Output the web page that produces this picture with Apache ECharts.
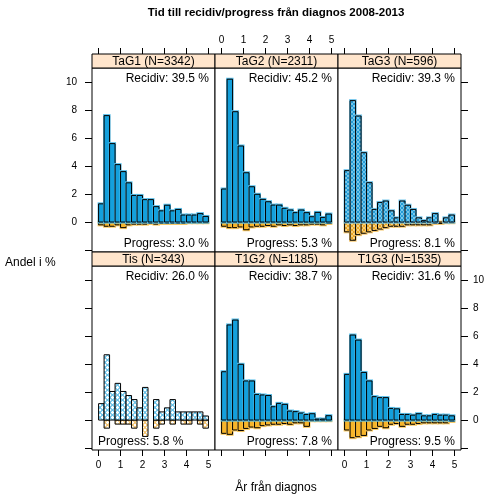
<!DOCTYPE html>
<html><head><meta charset="utf-8">
<script src="https://cdn.jsdelivr.net/npm/echarts@6/dist/echarts.min.js"></script>
<style>html,body{margin:0;padding:0;background:#fff}#c{width:504px;height:504px}</style>
</head><body><div id="c"></div>
<script>
// ---- data ----
const panelNames = ['TaG1 (N=3342)','TaG2 (N=2311)','TaG3 (N=596)','Tis (N=343)','T1G2 (N=1185)','T1G3 (N=1535)'];
const recidivText = ['Recidiv: 39.5 %','Recidiv: 45.2 %','Recidiv: 39.3 %','Recidiv: 26.0 %','Recidiv: 38.7 %','Recidiv: 31.6 %'];
const progressText = ['Progress: 3.0 %','Progress: 5.3 %','Progress: 8.1 %','Progress: 5.8 %','Progress: 7.8 %','Progress: 9.5 %'];
const binStart = [0,0.25,0.5,0.75,1,1.25,1.5,1.75,2,2.25,2.5,2.75,3,3.25,3.5,3.75,4,4.25,4.5,4.75];
const binEnd   = [0.25,0.5,0.75,1,1.25,1.5,1.75,2,2.25,2.5,2.75,3,3.25,3.5,3.75,4,4.25,4.5,4.75,5];
const xTicks = [0,1,2,3,4,5];
const yTicks = [-2,0,2,4,6,8,10];
const yLabels = [0,2,4,6,8,10];

const tag1Rec  = [1.3,7.6,5.6,4.1,3.6,2.8,1.9,1.9,1.6,1.6,1.1,0.8,1.2,0.8,0.9,0.5,0.5,0.5,0.6,0.4];
const tag1Prog = [-0.2,-0.3,-0.3,-0.2,-0.4,-0.2,-0.15,-0.15,-0.15,-0.1,-0.15,-0.1,-0.1,-0.1,-0.1,-0.1,-0.05,-0.05,-0.05,-0.05];
const tag2Rec  = [2.36,10.2,7.88,5.43,3.52,2.52,1.98,1.62,1.45,1.21,1.21,0.98,0.86,0.67,0.86,0.67,0.38,0.69,0.33,0.57];
const tag2Prog = [-0.3,-0.4,-0.4,-0.35,-0.55,-0.35,-0.3,-0.3,-0.25,-0.3,-0.2,-0.25,-0.2,-0.25,-0.2,-0.2,-0.15,-0.15,-0.2,-0.1];
const tag3Rec  = [3.67,8.67,7.57,4.95,2.81,0.9,1.4,1.5,0.8,0.3,1.5,1.2,0.9,0.3,0.1,0.3,0.6,0,0.3,0.5];
const tag3Prog = [-0.7,-1.3,-0.9,-0.8,-0.7,-0.6,-0.5,-0.4,-0.3,-0.3,-0.3,-0.2,-0.2,-0.2,-0.2,-0.2,-0.1,-0.1,-0.05,-0.05];
const tisRec   = [1.17,4.66,2.04,2.62,2.04,1.75,1.46,0.87,2.33,0,1.46,0.58,0.87,1.46,0.58,0.58,0.58,0.58,0.58,0.29];
const tisProg  = [0,-0.58,0,-0.29,-0.29,-0.29,-0.58,0,-1.17,0,-0.58,-0.29,0,-0.29,0,-0.29,-0.29,0,-0.29,-0.58];
const t1g2Rec  = [3.45,6.79,7.14,3.98,2.79,2.79,1.83,1.79,1.75,0.95,1.19,1.12,0.64,0.6,0.5,0.4,0.45,0.07,0.07,0.31];
const t1g2Prog = [-0.95,-1.02,-0.71,-0.75,-0.6,-0.5,-0.55,-0.4,-0.35,-0.3,-0.3,-0.25,-0.3,-0.2,-0.2,-0.45,-0.05,-0.05,-0.05,-0.05];
const t1g3Rec  = [3.26,6.07,5.71,3.4,2.79,1.67,1.6,1.6,0.83,0.8,0.4,0.4,0.35,0.45,0.3,0.3,0.4,0.35,0.35,0.3];
const t1g3Prog = [-0.71,-1.26,-1.19,-1.1,-0.71,-0.6,-0.45,-0.55,-0.3,-0.25,-0.45,-0.3,-0.3,-0.25,-0.2,-0.2,-0.2,-0.2,-0.2,-0.1];

const recData  = [tag1Rec, tag2Rec, tag3Rec, tisRec, t1g2Rec, t1g3Rec];
const progData = [tag1Prog, tag2Prog, tag3Prog, tisProg, t1g2Prog, t1g3Prog];
const density  = ['dense','dense','medium','sparse','dense','dense'];

// ---- styling helpers ----
const BLUE = '#14A0DC', ORANGE = '#F7B52A';
function pattern(bg, ring, step, r) {
  const cv = document.createElement('canvas');
  cv.width = step; cv.height = step;
  const g = cv.getContext('2d');
  g.fillStyle = bg; g.fillRect(0,0,step,step);
  g.strokeStyle = ring; g.lineWidth = 1;
  g.beginPath(); g.arc(step/2, step/2, r, 0, Math.PI*2); g.stroke();
  return {image: cv, repeat: 'repeat'};
}
const fills = {
  dense:  {rec: BLUE, prog: ORANGE, recHalo: '#56BDE8', progHalo: '#F9C860'},
  medium: {rec: pattern('#8AD0EE', '#1E9AD6', 4, 1.6), prog: pattern('#FBDA94', '#E9A520', 4, 1.6), recHalo: '#6EC3EA', progHalo: '#F6C870'},
  sparse: {rec: pattern('#FFFFFF', '#3AAEE0', 5, 2), prog: pattern('#FFFFFF', '#F0B040', 5, 2), recHalo: null, progHalo: null}
};
function binRenderer(fill, halo) {
  return function (params, api) {
    const v = api.value(2);
    if (!v) return null;
    const p0 = api.coord([api.value(0), 0]);
    const p1 = api.coord([api.value(1), v]);
    const x = Math.min(p0[0], p1[0]), y = Math.min(p0[1], p1[1]);
    const w = Math.abs(p1[0] - p0[0]), h = Math.abs(p1[1] - p0[1]);
    const kids = [];
    if (halo) kids.push({type: 'rect', shape: {x: x - 1, y: y - 1.5, width: w + 2, height: h + 3}, style: {fill: halo}});
    kids.push({type: 'rect', shape: {x: x, y: y, width: w, height: h}, style: {fill: fill, stroke: '#000', lineWidth: 1}});
    return {type: 'group', children: kids};
  };
}

// ---- layout ----
const colLeft = [92, 215, 338], W = 123;
const rowTop = [68, 266], H = 184, STRIP = 14;
const grids = [], xAxes = [], yAxes = [], series = [], graphics = [];
const axisFont = {fontSize: 10, color: '#000', fontFamily: 'Liberation Sans'};
const noLine = {show: false, onZero: false};

for (let p = 0; p < 6; p++) {
  const r = Math.floor(p / 3), c = p % 3;
  grids.push({left: colLeft[c], top: rowTop[r], width: W, height: H, show: true, borderColor: '#000', borderWidth: 1, backgroundColor: '#fff'});
  const xBase = {type: 'value', gridIndex: p, min: -0.3, max: 5.3, splitLine: {show: false}, axisLine: noLine};
  xAxes.push(Object.assign({}, xBase, {position: 'bottom',
    axisTick: {show: r === 1, customValues: xTicks, length: 6, lineStyle: {color: '#000'}},
    axisLabel: Object.assign({show: r === 1 && c !== 1, customValues: xTicks, margin: 10}, axisFont)}));
  xAxes.push(Object.assign({}, xBase, {position: 'top', offset: STRIP,
    axisTick: {show: r === 0, customValues: xTicks, length: 6, lineStyle: {color: '#000'}},
    axisLabel: Object.assign({show: r === 0 && c === 1, customValues: xTicks, margin: 9}, axisFont)}));
  const yBase = {type: 'value', gridIndex: p, min: -2.14, max: 11, splitLine: {show: false}, axisLine: noLine};
  yAxes.push(Object.assign({}, yBase, {position: 'left',
    axisTick: {show: c === 0, customValues: yTicks, length: 7, lineStyle: {color: '#000'}},
    axisLabel: Object.assign({show: c === 0 && r === 0, customValues: yLabels, margin: 15}, axisFont)}));
  yAxes.push(Object.assign({}, yBase, {position: 'right',
    axisTick: {show: c === 2, customValues: yTicks, length: 7, lineStyle: {color: '#000'}},
    axisLabel: Object.assign({show: c === 2 && r === 1, customValues: yLabels, margin: 12}, axisFont)}));

  const f = fills[density[p]];
  const recRows = binStart.map((s, i) => [s, binEnd[i], recData[p][i]]);
  const progRows = binStart.map((s, i) => [s, binEnd[i], progData[p][i]]);
  series.push({type: 'custom', xAxisIndex: 2 * p, yAxisIndex: 2 * p, data: progRows, renderItem: binRenderer(f.prog, f.progHalo), silent: true, clip: true});
  series.push({type: 'custom', xAxisIndex: 2 * p, yAxisIndex: 2 * p, data: recRows, renderItem: binRenderer(f.rec, f.recHalo), silent: true, clip: true});

  // strip
  const sy = rowTop[r] - STRIP;
  graphics.push({type: 'rect', z: 100, shape: {x: colLeft[c], y: sy, width: W, height: STRIP}, style: {fill: '#FFE5CC', stroke: '#000', lineWidth: 1}});
  graphics.push({type: 'text', z: 101, x: colLeft[c] + W / 2, y: sy + STRIP / 2 + 0.5,
    style: {text: panelNames[p], textAlign: 'center', textVerticalAlign: 'middle', font: '12px "Liberation Sans"', fill: '#000'}});
  // panel texts
  graphics.push({type: 'text', z: 101, x: colLeft[c] + W - 6, y: rowTop[r] + 10.5,
    style: {text: recidivText[p], textAlign: 'right', textVerticalAlign: 'middle', font: '12px "Liberation Sans"', fill: '#000'}});
  const leftAligned = (p === 3);
  graphics.push({type: 'text', z: 101, x: leftAligned ? colLeft[c] + 6 : colLeft[c] + W - 6, y: rowTop[r] + H - 8,
    style: {text: progressText[p], textAlign: leftAligned ? 'left' : 'right', textVerticalAlign: 'middle', font: '12px "Liberation Sans"', fill: '#000'}});
}

graphics.push({type: 'text', x: 276, y: 13, style: {text: 'Tid till recidiv/progress från diagnos 2008-2013', textAlign: 'center', textVerticalAlign: 'middle', font: 'bold 11.5px "Liberation Sans"', fill: '#000'}});
graphics.push({type: 'text', x: 5, y: 263, style: {text: 'Andel i %', textAlign: 'left', textVerticalAlign: 'middle', font: '12px "Liberation Sans"', fill: '#000'}});
graphics.push({type: 'text', x: 276, y: 488, style: {text: 'År från diagnos', textAlign: 'center', textVerticalAlign: 'middle', font: '12px "Liberation Sans"', fill: '#000'}});

const chart = echarts.init(document.getElementById('c'), null, {renderer: 'canvas'});
chart.setOption({animation: false, backgroundColor: '#fff', grid: grids, xAxis: xAxes, yAxis: yAxes, series: series, graphic: graphics});
</script>
</body></html>
